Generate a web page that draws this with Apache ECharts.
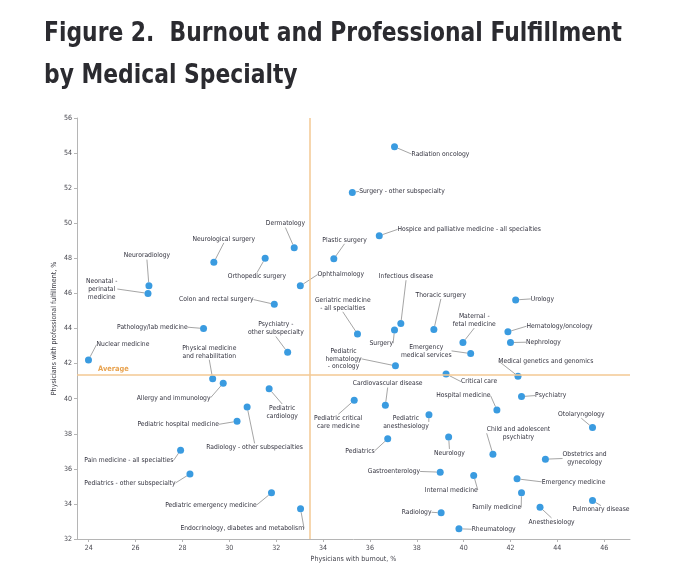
<!DOCTYPE html>
<html><head><meta charset="utf-8">
<script src="https://cdn.jsdelivr.net/npm/echarts@6/dist/echarts.min.js"></script>
<style>html,body{margin:0;padding:0;background:#fff}#c{width:680px;height:581px}</style>
</head><body><div id="c"></div>
<script>
// ---------- data ----------
const specialties = [
  'Radiation oncology','Surgery - other subspecialty','Dermatology','Neurological surgery','Plastic surgery',
  'Hospice and palliative medicine - all specialties','Neuroradiology','Orthopedic surgery','Neonatal -\nperinatal\nmedicine','Ophthalmology',
  'Infectious disease','Urology','Colon and rectal surgery','Geriatric medicine\n- all specialties','Thoracic surgery',
  'Pathology/lab medicine','Psychiatry -\nother subspecialty','Maternal -\nfetal medicine','Hematology/oncology','Surgery',
  'Nephrology','Nuclear medicine','Physical medicine\nand rehabilitation','Pediatric\nhematology\n- oncology','Emergency\nmedical services',
  'Medical genetics and genomics','Critical care','Cardiovascular disease','Allergy and immunology','Hospital medicine',
  'Psychiatry','Pediatric\ncardiology','Pediatric critical\ncare medicine','Pediatric\nanesthesiology','Otolaryngology',
  'Pediatric hospital medicine','Radiology - other subspecialties','Child and adolescent\npsychiatry','Neurology','Pediatrics',
  'Pain medicine - all specialties','Obstetrics and\ngynecology','Gastroenterology','Pediatrics - other subspecialty','Internal medicine',
  'Emergency medicine','Pediatric emergency medicine','Family medicine','Pulmonary disease','Anesthesiology',
  'Radiology','Endocrinology, diabetes and metabolism','Rheumatology'
];
const burnout = [
  37.05,35.25,32.77,29.34,34.46,
  36.40,26.57,31.53,26.53,33.03,
  37.32,42.22,31.92,35.47,38.73,
  28.90,32.49,39.97,41.89,37.05,
  42.00,23.99,29.29,37.09,40.30,
  42.32,39.25,36.66,29.74,41.42,
  42.47,31.70,35.33,38.52,45.50,
  30.33,30.76,41.25,39.36,36.76,
  27.92,43.49,39.00,28.32,40.43,
  42.28,31.80,42.47,45.50,43.26,
  39.04,33.04,39.80
];
const fulfillment = [
  54.36,51.76,48.61,47.77,47.97,
  49.29,46.44,48.00,46.00,46.43,
  44.28,45.63,45.38,43.69,43.95,
  44.00,42.64,43.20,43.81,43.92,
  43.20,42.21,41.13,41.87,42.57,
  41.28,41.41,39.62,40.88,39.36,
  40.12,40.56,39.91,39.09,38.35,
  38.71,39.53,36.83,37.82,37.71,
  37.06,36.55,35.81,35.71,35.62,
  35.43,34.63,34.63,34.19,33.81,
  33.49,33.72,32.58
];
const avgBurnout = 33.45;
const avgFulfillment = 41.35;
const xTicks = [24,26,28,30,32,34,36,38,40,42,44,46];

// ---------- label placement (pixel offsets of label centre from point) ----------
const labelDx = [
  46,49.6,-8.8,10,10.7,
  90,-2,-8.2,-46.3,40.5,
  5.2,26.7,-58,-14.7,7,
  -51.2,-11.8,11.3,51.6,-13.2,
  32.9,34.5,-3.4,-51.9,-44.4,
  27.8,33,2.3,-49.6,-33.5,
  29.2,13,-15.9,-23,-11.2,
  -58.8,7.5,25.5,0.8,-27.7,
  -51.7,39.2,-46.3,-60,-22.4,
  56.5,-60.5,-24.8,8.5,11.5,
  -24.5,-58.3,34.7
];
const labelDy = [
  7.3,-1,-24,-23.4,-19,
  -6.3,-30,18.3,-4.4,-11.3,
  -47.3,-1,-4.7,-30,-34.4,
  -1.3,-23.7,-22.3,-5.6,13.4,
  -0.3,-15.3,-27,-7,-2.7,
  -15.4,7.7,-21.7,14.6,-14.3,
  -1,23,22,7.3,-13.3,
  3,40.4,-21,16,12,
  10.3,-0.7,-0.7,9,14.3,
  3,12,14.7,9,14.6,
  -0.6,19.7,0.4
];

// ---------- font selection ----------
const ctx = document.createElement('canvas').getContext('2d');
function hasFont(f){
  const s='abcdefghijklmnopqrstuvwxyzABCDEFGHIJ0123456789';
  for (const base of ['monospace','serif']){
    ctx.font='20px '+base; const a=ctx.measureText(s).width;
    ctx.font="20px '"+f+"', "+base; const b=ctx.measureText(s).width;
    if (a!==b) return true;
  }
  return false;
}
const cand = ['Liberation Sans Narrow','DejaVu Sans Condensed','Roboto Condensed','Noto Sans Condensed','Roboto'];
let FONT = 'Roboto';
for (const f of cand){ if (hasFont(f)) { FONT = f; break; } }
function w(text, size, weight){ ctx.font=(weight||'normal')+' '+size+"px '"+FONT+"'"; return ctx.measureText(text).width; }
let LF = 10*124/w('Endocrinology, diabetes and metabolism',10);
LF = Math.max(6.5, Math.min(9, LF));
const titleSize = 27;
const titleScale = Math.min(1, 578 / w('Figure 2.  Burnout and Professional Fulfillment', titleSize, 'bold'));

const chart = echarts.init(document.getElementById('c'), null, {renderer:'canvas'});
chart.setOption({
  backgroundColor:'#fff',
  animation:false,
  graphic:[
    {type:'text', x:44, y:34, originX:0, scaleX:titleScale,
     style:{text:'Figure 2.  Burnout and Professional Fulfillment', font:'bold '+titleSize+"px '"+FONT+"'", fill:'#2b2b30', textVerticalAlign:'middle'}},
    {type:'text', x:44, y:76, originX:0, scaleX:titleScale,
     style:{text:'by Medical Specialty', font:'bold '+titleSize+"px '"+FONT+"'", fill:'#2b2b30', textVerticalAlign:'middle'}}
  ],
  grid:{left:77, right:50, top:118, bottom:42, outerBoundsMode:'none', containLabel:false},
  xAxis:{
    type:'value', min:23.5, max:47.1,
    name:'Physicians with burnout, %', nameLocation:'middle', nameGap:16.5, nameMoveOverlap:false,
    nameTextStyle:{fontFamily:FONT, fontSize:LF*1.05, color:'#3f3f48'},
    axisLine:{show:true, lineStyle:{color:'#b5b5b5', width:1}},
    axisTick:{show:true, length:3, customValues:xTicks, lineStyle:{color:'#b5b5b5'}},
    axisLabel:{customValues:xTicks, fontFamily:FONT, fontSize:LF*1.05, color:'#4a4a52', margin:6},
    splitLine:{show:false}
  },
  yAxis:{
    type:'value', min:32, max:56, interval:2,
    name:'Physicians with professional fulfillment, %', nameLocation:'middle', nameGap:19, nameMoveOverlap:false,
    nameTextStyle:{fontFamily:FONT, fontSize:LF*1.05, color:'#3f3f48'},
    axisLine:{show:true, lineStyle:{color:'#b5b5b5', width:1}},
    axisTick:{show:true, length:3, lineStyle:{color:'#b5b5b5'}},
    axisLabel:{fontFamily:FONT, fontSize:LF*1.05, color:'#4a4a52', margin:5},
    splitLine:{show:false}
  },
  series:[
    {
      type:'scatter', data:[], z:1, silent:true,
      markLine:{
        silent:true, symbol:'none', animation:false,
        lineStyle:{color:'#f3c993', width:1.5, type:'solid'},
        data:[
          {yAxis:avgFulfillment, label:{show:true, formatter:'Average', position:'insideStartTop', distance:[21,2],
            color:'#e8a24e', fontFamily:FONT, fontSize:LF*1.1, fontWeight:'bold'}},
          {xAxis:avgBurnout, label:{show:false}}
        ]
      }
    },
    {
      type:'scatter', z:3,
      data: burnout.map((x,i)=>[x, fulfillment[i]]),
      symbolSize:7,
      itemStyle:{color:'#3a9be0', opacity:1},
      emphasis:{disabled:true},
      label:{show:true, position:'inside', align:'center', verticalAlign:'middle',
        formatter:p=>specialties[p.dataIndex],
        color:'#33333f', fontFamily:FONT, fontSize:LF, lineHeight:LF*1.17},
      labelLine:{show:true, lineStyle:{color:'#8e8e8e', width:0.8}},
      labelLayout:p=>({dx:labelDx[p.dataIndex], dy:labelDy[p.dataIndex]})
    }
  ]
});
</script></body></html>
